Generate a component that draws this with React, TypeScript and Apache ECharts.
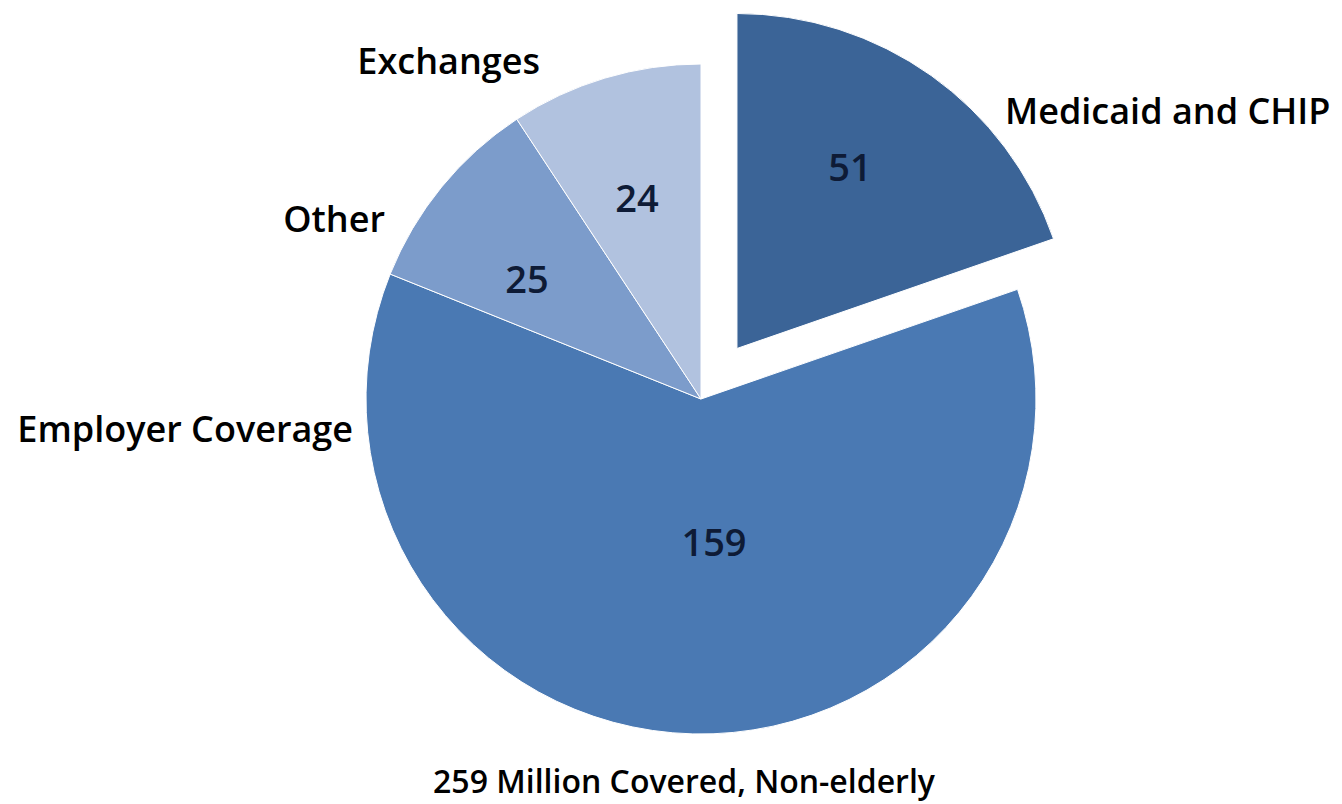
import React, { useEffect, useRef } from "react";
import * as echarts from "echarts";

const categories = ["Medicaid and CHIP", "Employer Coverage", "Other", "Exchanges"];
const values = [51, 159, 25, 24];
const colors = ["#3B6497", "#4A79B3", "#7C9CCB", "#B1C2DF"];
const titleText = "259 Million Covered, Non-elderly";

// label anchor positions (pixels) for inner value labels and outer name labels
const innerLabelPos = [
  [850, 166],
  [714, 541],
  [527, 278],
  [637, 197],
];
const outerLabelPos: [number, number, string][] = [
  [1005, 110, "left"],
  [353, 428, "right"],
  [385, 218, "right"],
  [540, 60, "right"],
];

const FONT = "'Open Sans', 'Noto Sans', sans-serif";

export default function App() {
  const ref = useRef<HTMLDivElement>(null);
  useEffect(() => {
    if (!ref.current) return;
    const chart = echarts.init(ref.current, undefined, { renderer: "svg" });
    const common = {
      type: "pie" as const,
      center: [701, 399],
      radius: 335,
      startAngle: 90,
      clockwise: true,
      animation: false,
      emphasis: { disabled: true },
      labelLine: { show: false },
    };
    const clear = "rgba(0,0,0,0)";
    const labelData = categories.map((name, i) => ({
      name,
      value: values[i],
      itemStyle: { color: clear, borderWidth: 0 },
    }));
    chart.setOption({
      animation: false,
      title: {
        text: titleText,
        left: 679,
        top: 759,
        textAlign: "center",
        textStyle: { fontFamily: FONT, fontWeight: 600, fontSize: 32, color: "#000" },
      },
      series: [
        {
          ...common,
          selectedMode: "single",
          selectedOffset: 62,
          itemStyle: { borderColor: "#ffffff", borderWidth: 1 },
          label: { show: false },
          data: categories.map((name, i) => ({
            name,
            value: values[i],
            selected: i === 0,
            itemStyle: { color: colors[i] },
          })),
        },
        {
          ...common,
          silent: true,
          label: {
            show: true,
            position: "inside",
            formatter: "{c}",
            fontFamily: FONT,
            fontWeight: 600,
            fontSize: 38,
            color: "#0E1B36",
          },
          labelLayout: (p: any) => ({
            x: innerLabelPos[p.dataIndex][0],
            y: innerLabelPos[p.dataIndex][1],
            align: "center",
            verticalAlign: "middle",
          }),
          data: labelData,
        },
        {
          ...common,
          silent: true,
          label: {
            show: true,
            position: "outside",
            formatter: "{b}",
            fontFamily: FONT,
            fontWeight: 600,
            fontSize: 36,
            color: "#000",
          },
          labelLayout: (p: any) => ({
            x: outerLabelPos[p.dataIndex][0],
            y: outerLabelPos[p.dataIndex][1],
            align: outerLabelPos[p.dataIndex][2],
            verticalAlign: "middle",
          }),
          data: labelData,
        },
      ],
    });
    return () => chart.dispose();
  }, []);
  return (
    <div
      ref={ref}
      style={{ position: "fixed", left: 0, top: 0, width: 1342, height: 804, background: "#fff" }}
    />
  );
}
